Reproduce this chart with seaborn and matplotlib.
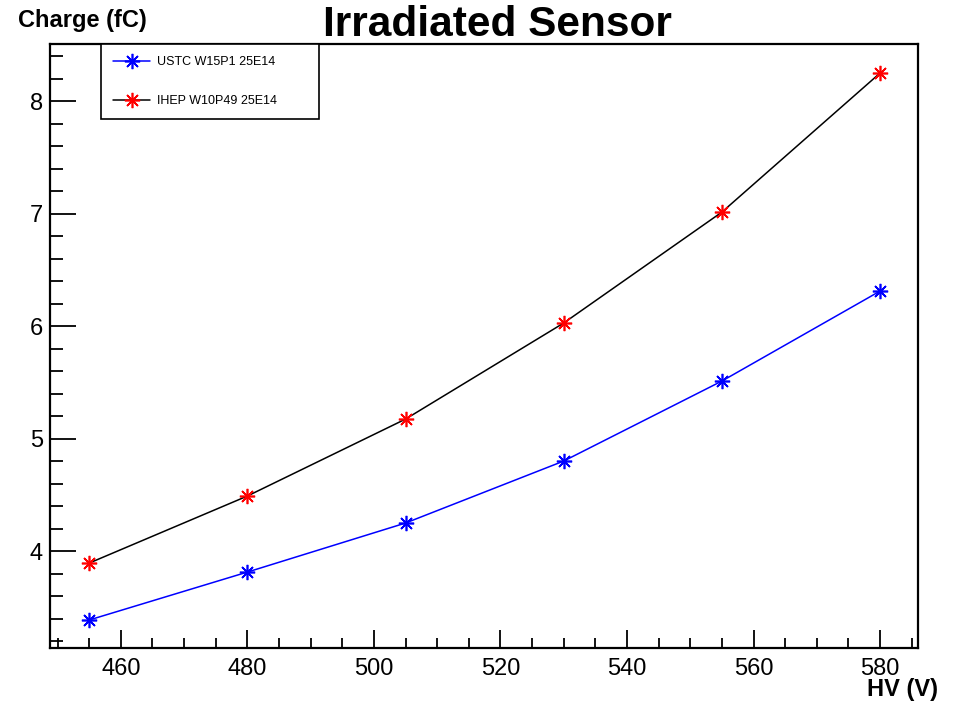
import matplotlib
matplotlib.use("Agg")
import matplotlib.pyplot as plt
import seaborn as sns
import pandas as pd
from matplotlib.ticker import MultipleLocator
from matplotlib.lines import Line2D

hv = [455, 480, 505, 530, 555, 580]
ustc = [3.387, 3.813, 4.249, 4.800, 5.511, 6.311]
ihep = [3.893, 4.489, 5.173, 6.027, 7.013, 8.249]
series_names = ["USTC W15P1 25E14", "IHEP W10P49 25E14"]
line_colors = ["#0000ff", "#000000"]
marker_colors = ["#0000ff", "#ff0000"]

sns.set_style("ticks")
plt.rcParams['font.family'] = ['Liberation Sans', 'DejaVu Sans']
plt.rcParams['text.color'] = 'black'
plt.rcParams['xtick.color'] = 'black'
plt.rcParams['ytick.color'] = 'black'
plt.rcParams['xtick.labelcolor'] = 'black'
plt.rcParams['ytick.labelcolor'] = 'black'

fig = plt.figure(figsize=(9.54, 7.01), dpi=100)
ax = fig.add_axes([0.0524, 0.0756, 0.9099, 0.8616])

star = (8, 2, 0)
for name, vals, lc, mc in zip(series_names, [ustc, ihep], line_colors, marker_colors):
    df = pd.DataFrame({"HV": hv, "Charge": vals})
    sns.lineplot(data=df, x="HV", y="Charge", ax=ax, color=lc, linewidth=1.1,
                 marker=star, markersize=11, markeredgecolor=mc,
                 markerfacecolor=mc, markeredgewidth=1.2)

ax.set_xlim(448.8, 586.0)
ax.set_ylim(3.138, 8.507)
ax.xaxis.set_major_locator(MultipleLocator(20))
ax.xaxis.set_minor_locator(MultipleLocator(5))
ax.yaxis.set_major_locator(MultipleLocator(1))
ax.yaxis.set_minor_locator(MultipleLocator(0.2))
ax.tick_params(axis='x', which='major', direction='in', length=13, width=1.3,
               labelsize=17, pad=7, top=False, colors='black')
ax.tick_params(axis='x', which='minor', direction='in', length=7, width=1.3, top=False,
               colors='black')
ax.tick_params(axis='y', which='major', direction='in', length=19, width=1.3,
               labelsize=17, pad=5, right=False, colors='black')
ax.tick_params(axis='y', which='minor', direction='in', length=9, width=1.3, right=False,
               colors='black')
for s in ax.spines.values():
    s.set_linewidth(1.6)
    s.set_color("black")
ax.set_xlabel("")
ax.set_ylabel("")

fig.text(0.521, 0.993, "Irradiated Sensor", ha='center', va='top',
         fontsize=30.5, fontweight='bold', color='black')
fig.text(0.019, 0.987, "Charge (fC)", ha='left', va='top',
         fontsize=17, fontweight='bold', color='black')
fig.text(0.983, 0.0, "HV (V)", ha='right', va='bottom',
         fontsize=17, fontweight='bold', color='black')

handles = [Line2D([], [], color=lc, linewidth=1.1, marker=star, markersize=11,
                  markeredgecolor=mc, markerfacecolor=mc, markeredgewidth=1.2)
           for lc, mc in zip(line_colors, marker_colors)]
leg = ax.legend(handles, series_names, loc='upper left',
                bbox_to_anchor=(0.0588, 0.877, 0.2516, 0.123), mode='expand',
                fontsize=9, labelspacing=2.2, borderpad=0.95, handlelength=3.0,
                handletextpad=0.55, fancybox=False, edgecolor='black',
                framealpha=1, borderaxespad=0)
leg.get_frame().set_linewidth(1.2)
for t in leg.get_texts():
    t.set_color('black')

fig.savefig("out.png", dpi=100)
